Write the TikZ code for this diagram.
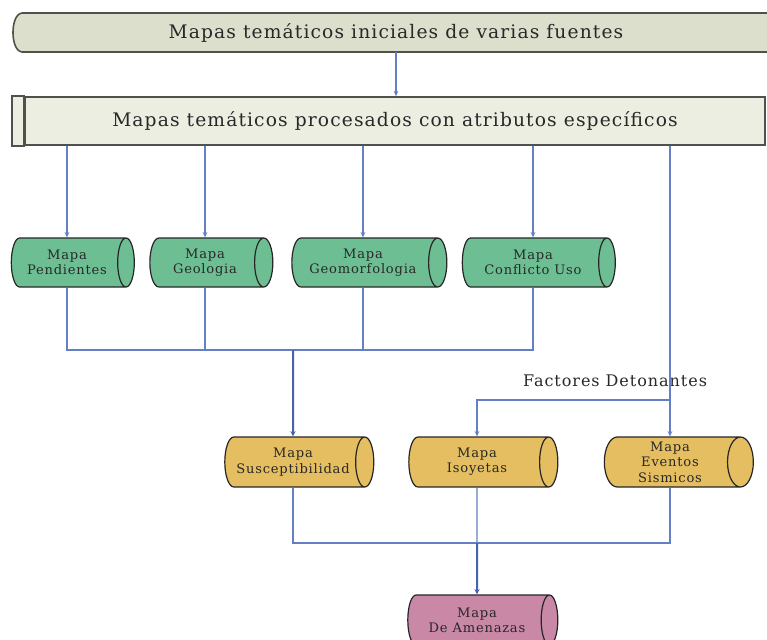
\documentclass[tikz,border=0pt]{standalone}
\usepackage{fontspec}
\setmainfont{DejaVu Serif}
\usetikzlibrary{shapes.geometric}
\usetikzlibrary{arrows.meta}
\usetikzlibrary{calc}
\definecolor{cajaini}{RGB}{221,223,205}
\definecolor{cajaproc}{RGB}{236,238,226}
\definecolor{borde}{RGB}{80,80,76}
\definecolor{verde}{RGB}{110,190,148}
\definecolor{amarillo}{RGB}{228,190,96}
\definecolor{rosa}{RGB}{200,136,166}
\definecolor{azul}{RGB}{100,128,196}
\definecolor{azulosc}{RGB}{70,100,170}
\definecolor{texto}{RGB}{40,40,40}
\tikzset{mapa/.style={cylinder, shape border rotate=0, aspect=0.6, draw=black!85,
    line width=0.9pt, align=center, text=texto, inner sep=1pt,
    font=\fontsize{9.8}{11.5}\selectfont\addfontfeature{LetterSpace=6}}
}
\tikzset{titulo/.style={text=texto,
    font=\fontsize{14}{16}\selectfont\addfontfeature{LetterSpace=6}}
}
\tikzset{linea/.style={draw=azul, line width=0.8pt}}
\tikzset{flecha/.style={linea, -{Stealth[length=4pt,width=3.5pt]}}}
\tikzset{flechagruesa/.style={draw=azulosc, line width=1.5pt, -{Stealth[length=4pt,width=4pt]}}}

\begin{document}
\begin{tikzpicture}[x=0.75pt,y=-0.75pt]
    \useasboundingbox (0,0) rectangle (767,639);

    % Top boxes
    \filldraw[fill=cajaini, draw=borde, line width=1.2pt] (22,13) -- (790,13) -- (790,52) -- (22,52)
        .. controls (15,51) and (13,40) .. (13,32.5) .. controls (13,25) and (15,14) .. (22,13);
    \node[titulo, minimum height=29.25pt] (ini) at (396,32.5) {Mapas temáticos iniciales de varias fuentes};
    \node[titulo, draw=borde, fill=cajaproc, line width=1.2pt, minimum width=555pt, minimum height=36pt] (proc) at (395,121) {Mapas temáticos procesados con atributos específicos};
    \filldraw[fill=cajaproc, draw=borde, line width=1.2pt] (proc.north west) rectangle ($(proc.south west)+(-12,0)$);
    \draw[flecha] (ini.south) -- (ini.south |- proc.north);

    % Thematic maps
    \node[mapa, fill=verde, minimum width=36.75pt, minimum height=92.25pt] (pend) at (67,262.5) {Mapa\\Pendientes};
    \node[mapa, fill=verde, minimum width=36.75pt, minimum height=92.25pt] (geol) at (205,262.5) {Mapa\\Geologia};
    \node[mapa, fill=verde, minimum width=36.75pt, minimum height=116.25pt] (geom) at (363,262.5) {Mapa\\Geomorfologia};
    \node[mapa, fill=verde, minimum width=36.75pt, minimum height=114.75pt] (conf) at (533,262.5) {Mapa\\Conflicto Uso};

    % Result maps
    \node[mapa, fill=amarillo, minimum width=37.5pt, minimum height=111.75pt] (susc) at (293,462) {Mapa\\Susceptibilidad};
    \node[mapa, fill=amarillo, minimum width=37.5pt, minimum height=111.75pt] (iso) at (477,462) {Mapa\\Isoyetas};
    \node[mapa, fill=amarillo, minimum width=37.5pt, minimum height=111.75pt] (even) at (670,462) {Mapa\\Eventos\\Sismicos};
    \node[mapa, fill=rosa, minimum width=37.5pt, minimum height=112.5pt] (amen) at (477,620) {Mapa\\De Amenazas};

    % Labels
    \node[titulo, font=\fontsize{12}{14}\selectfont\addfontfeature{LetterSpace=6}] (fact) at (615,381) {Factores Detonantes};

    % Arrows from processed maps
    \draw[flecha] (proc.south -| pend.north) -- (pend.north);
    \draw[flecha] (proc.south -| geol.north) -- (geol.north);
    \draw[flecha] (proc.south -| geom.north) -- (geom.north);
    \draw[flecha] (proc.south -| conf.north) -- (conf.north);
    \draw[flecha] (proc.south -| even.north) -- (even.north);

    % Join to susceptibility
    \coordinate (j1) at (293,350);
    \draw[linea] (pend.south) |- (j1);
    \draw[linea] (geol.south) |- (j1);
    \draw[linea] (geom.south) |- (j1);
    \draw[linea] (conf.south) |- (j1);
    \draw[flechagruesa] (j1) -- (susc.north);

    % Triggering factors
    \coordinate (det) at (670,400);
    \draw[flecha] (det) -| (iso.north);

    % Join to hazard
    \coordinate (j2) at (477,543);
    \draw[linea] (susc.south) |- (j2);
    \draw[linea] (even.south) |- (j2);
    \draw[linea] (iso.south) -- (j2);
    \draw[flechagruesa] (j2) -- (amen.north);
\end{tikzpicture}
\end{document}
